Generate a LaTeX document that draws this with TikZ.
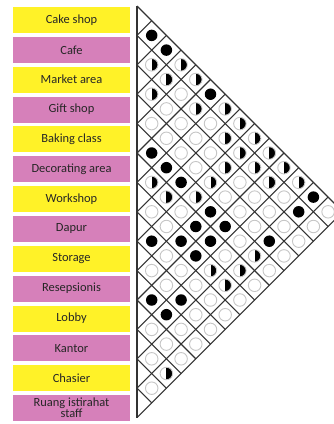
\documentclass[tikz,border=0pt]{standalone}
\usepackage{fontspec}
\setmainfont{Carlito}
\usetikzlibrary{positioning}
\definecolor{roomyellow}{RGB}{255,242,40}
\definecolor{roompink}{RGB}{214,128,186}

\begin{document}
\begin{tikzpicture}[
        x=1bp, y=-1bp,
        room/.style = {rectangle, minimum width=117bp, minimum height=26bp, inner sep=0pt, outer sep=0pt, align=center, font=\fontsize{12.5}{11}\selectfont, text=black!85},
        yroom/.style = {room, fill=roomyellow},
        proom/.style = {room, fill=roompink},
        gridline/.style = {draw=black!80, line width=1.1bp},
        opendot/.style = {circle, draw=gray!45, line width=0.9bp, minimum size=12.5bp, inner sep=0pt},
        fulldot/.style = {circle, fill=black, minimum size=11.5bp, inner sep=0pt},
        halfdot/.style = {opendot, path picture={\fill[black] (path picture bounding box.north) rectangle (path picture bounding box.south east);}}
        ]
        \path[fill=white, use as bounding box] (0,0) rectangle (334,424);
        \clip (0,0) rectangle (334,424);

        % room labels
        \node[yroom] (cake) at (71.5,20) {Cake shop};
        \node[proom, below=3.85bp of cake] (cafe) {Cafe};
        \node[yroom, below=3.85bp of cafe] (market) {Market area};
        \node[proom, below=3.85bp of market] (gift) {Gift shop};
        \node[yroom, below=3.85bp of gift] (baking) {Baking class};
        \node[proom, below=3.85bp of baking] (decor) {Decorating area};
        \node[yroom, below=3.85bp of decor] (workshop) {Workshop};
        \node[proom, below=3.85bp of workshop] (dapur) {Dapur};
        \node[yroom, below=3.85bp of dapur] (storage) {Storage};
        \node[proom, below=3.85bp of storage] (resepsionis) {Resepsionis};
        \node[yroom, below=3.85bp of resepsionis] (lobby) {Lobby};
        \node[proom, below=3.85bp of lobby] (kantor) {Kantor};
        \node[yroom, below=3.85bp of kantor] (chasier) {Chasier};
        \node[proom, below=3.85bp of chasier] (staff) {Ruang istirahat\\staff};

        % matrix grid
        \draw[gridline] (137,6) -- (137,417.6);
        \foreach \b in {0,...,14} {
                \draw[gridline] (137,{6+29.4*\b}) -- ++({14.7*(14-\b)},{14.7*(14-\b)});
                \draw[gridline] (137,{6+29.4*\b}) -- ++({14.7*\b},{-14.7*\b});
        }

        % relations
        \foreach \i/\j/\m in {
                0/1/fulldot, 0/2/fulldot, 0/3/halfdot, 0/4/halfdot, 0/5/fulldot, 0/6/halfdot, 0/7/halfdot, 0/8/halfdot, 0/9/halfdot, 0/10/halfdot, 0/11/halfdot, 0/12/fulldot, 0/13/opendot,
                1/2/halfdot, 1/3/halfdot, 1/4/opendot, 1/5/halfdot, 1/6/opendot, 1/7/halfdot, 1/8/halfdot, 1/9/halfdot, 1/10/halfdot, 1/11/opendot, 1/12/fulldot, 1/13/opendot,
                2/3/halfdot, 2/4/opendot, 2/5/opendot, 2/6/opendot, 2/7/opendot, 2/8/halfdot, 2/9/opendot, 2/10/opendot, 2/11/opendot, 2/12/opendot, 2/13/opendot,
                3/4/opendot, 3/5/opendot, 3/6/opendot, 3/7/opendot, 3/8/halfdot, 3/9/opendot, 3/10/opendot, 3/11/opendot, 3/12/fulldot, 3/13/opendot,
                4/5/fulldot, 4/6/fulldot, 4/7/fulldot, 4/8/halfdot, 4/9/fulldot, 4/10/fulldot, 4/11/opendot, 4/12/halfdot, 4/13/opendot,
                5/6/halfdot, 5/7/halfdot, 5/8/opendot, 5/9/fulldot, 5/10/fulldot, 5/11/opendot, 5/12/halfdot, 5/13/opendot,
                6/7/opendot, 6/8/opendot, 6/9/fulldot, 6/10/fulldot, 6/11/halfdot, 6/12/halfdot, 6/13/opendot,
                7/8/fulldot, 7/9/opendot, 7/10/opendot, 7/11/opendot, 7/12/opendot, 7/13/opendot,
                8/9/opendot, 8/10/opendot, 8/11/fulldot, 8/12/opendot, 8/13/opendot,
                9/10/fulldot, 9/11/fulldot, 9/12/opendot, 9/13/opendot,
                10/11/opendot, 10/12/opendot, 10/13/opendot,
                11/12/opendot, 11/13/halfdot,
                12/13/opendot}
                \node[\m] (p\i-\j) at ({137+14.7*(\j-\i)},{6+14.7*(\i+\j+1)}) {};
\end{tikzpicture}
\end{document}
